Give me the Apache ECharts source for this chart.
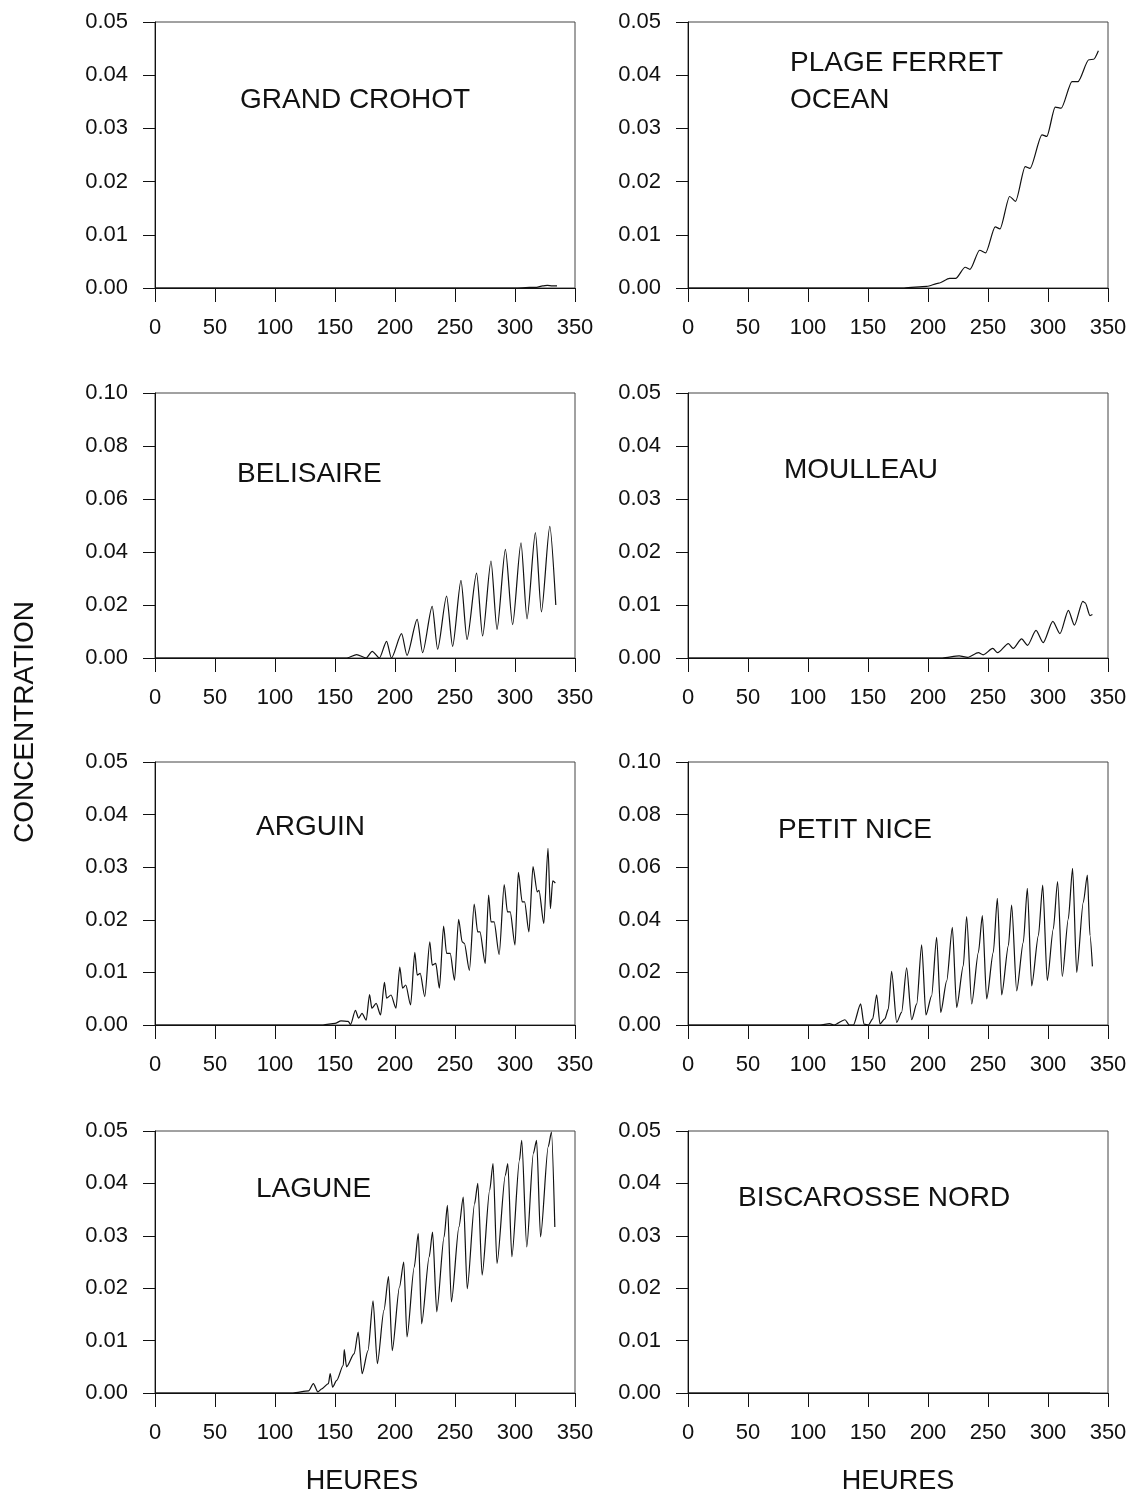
<!DOCTYPE html>
<html>
<head>
<meta charset="utf-8">
<title>Concentration - 8 stations</title>
<script src="https://cdn.jsdelivr.net/npm/echarts@6/dist/echarts.min.js"></script>
<style>
  html, body { margin: 0; padding: 0; background: #fff; }
  #chart { width: 1145px; height: 1497px; }
</style>
</head>
<body>
<div id="chart"></div>
<script>
// valeurs (heures / concentration)
const crohotHours = [0, 300, 312, 318, 323, 327, 331, 335]
const crohotConc = [0, 0, 0.0001, 0.0001, 0.0004, 0.0005, 0.0004, 0.0004]

const ferretHours = [0, 180, 199, 209, 218, 223, 231, 235, 243, 248, 256, 260, 268, 273, 281, 285, 295, 299, 306, 311, 320, 325, 334, 338, 342]
const ferretConc = [0, 0, 0.0003, 0.0009, 0.0018, 0.0018, 0.0039, 0.0035, 0.0071, 0.0066, 0.0115, 0.0111, 0.0172, 0.0163, 0.0228, 0.0225, 0.0288, 0.0285, 0.034, 0.0338, 0.0388, 0.0388, 0.0429, 0.043, 0.0446]

const belisaireHours = [0, 150, 160, 168, 176, 181, 187, 193, 197, 205.5, 210, 218.5, 223, 231, 235.5, 243, 248, 255, 260, 268, 273, 280, 285, 292, 298, 305, 310, 317, 322, 329, 334]
const belisaireConc = [0, 0, 0, 0.0013, 0, 0.0025, 0, 0.0063, 0, 0.0092, 0.001, 0.0146, 0.002, 0.0195, 0.0033, 0.0234, 0.0044, 0.0293, 0.007, 0.032, 0.0083, 0.0366, 0.0108, 0.041, 0.0126, 0.0435, 0.0148, 0.0473, 0.0174, 0.0497, 0.02]

const moulleauHours = [0, 212, 226, 233, 242, 246, 254, 258, 267, 271, 278, 283, 290, 296, 304, 310, 317, 322, 329, 331, 335, 337]
const moulleauConc = [0, 0, 0.0004, 0.0001, 0.001, 0.0006, 0.0018, 0.001, 0.0027, 0.0018, 0.0036, 0.0024, 0.0052, 0.0029, 0.0069, 0.0046, 0.009, 0.0062, 0.0107, 0.0104, 0.008, 0.0082]

const arguinHours = [0, 140, 150, 155, 161, 163, 167, 169.7, 172.5, 176, 178.8, 180.7, 184.3, 188, 191.2, 193, 196.7, 200.8, 204, 206.3, 209, 213, 216.5, 218.5, 221, 224.8, 229, 231, 234, 237, 240.5, 243, 246, 249.6, 253, 256, 257.8, 262, 266, 268.9, 270.8, 275.2, 278, 280, 282.6, 286.8, 291, 293.7, 296, 300, 302.8, 306, 308, 311.6, 315, 318.5, 320, 324, 327.5, 329.5, 331.4, 333.6]
const arguinConc = [0, 0, 0.0003, 0.0008, 0.0007, 0.0001, 0.0028, 0.0013, 0.0022, 0.0009, 0.0058, 0.0032, 0.0041, 0.0019, 0.0081, 0.0051, 0.0057, 0.0032, 0.011, 0.007, 0.0076, 0.0038, 0.0138, 0.0095, 0.0098, 0.0054, 0.0158, 0.0114, 0.0117, 0.007, 0.0188, 0.0136, 0.0136, 0.0085, 0.0201, 0.0158, 0.0155, 0.0104, 0.023, 0.0177, 0.0177, 0.0117, 0.0247, 0.0196, 0.0196, 0.0134, 0.0267, 0.0215, 0.0215, 0.0152, 0.029, 0.0234, 0.0234, 0.0177, 0.0301, 0.0253, 0.0256, 0.0193, 0.0336, 0.0221, 0.0274, 0.027]

const petitNiceHours = [0, 110, 118, 121.7, 130.8, 134.4, 137.8, 143.9, 146.7, 150.3, 153.9, 157.2, 160, 164, 166.9, 169.7, 173.9, 178, 182.2, 186.4, 190.6, 194.7, 198.3, 203, 207.2, 210.6, 215.6, 220.3, 223.9, 229.4, 232.2, 236.4, 242, 245.3, 248.9, 254.4, 257.8, 261.4, 267, 269.7, 273.9, 279.4, 282.8, 286.4, 292, 295.6, 299.4, 304.4, 308, 311.9, 316.9, 320.5, 323.9, 329.4, 332.8, 335, 337]
const petitNiceConc = [0, 0, 0.0005, 0, 0.002, 0, 0, 0.008, 0.0003, 0, 0.0023, 0.0115, 0.0004, 0.0023, 0.006, 0.0204, 0.001, 0.0048, 0.0217, 0.002, 0.008, 0.0305, 0.0038, 0.0111, 0.0333, 0.0048, 0.0168, 0.0371, 0.0067, 0.0225, 0.0412, 0.008, 0.0276, 0.0416, 0.0099, 0.0276, 0.0482, 0.0114, 0.0302, 0.0456, 0.013, 0.0314, 0.052, 0.0149, 0.034, 0.0532, 0.0169, 0.0365, 0.0545, 0.0185, 0.0403, 0.0596, 0.02, 0.0466, 0.057, 0.034, 0.0223]

const laguneHours = [0, 115, 128, 132, 135.7, 139, 144.5, 146, 148, 151.4, 156.9, 157.7, 159.6, 166, 169.3, 172.6, 177.5, 181.7, 185.3, 190.8, 194.6, 197.7, 203.7, 207.3, 210, 216, 219.4, 222.2, 228.5, 231.3, 234.8, 240.9, 243.7, 247, 253.3, 256.9, 260.2, 266.3, 269, 272.6, 278.9, 281.7, 285, 291.9, 294, 297.4, 303.7, 305.6, 309.8, 315.3, 318, 321.3, 327.7, 330.4, 333.2]
const laguneConc = [0, 0, 0.0004, 0.0018, 0.0002, 0.0008, 0.0018, 0.0037, 0.0011, 0.0024, 0.0053, 0.0083, 0.005, 0.0075, 0.0116, 0.0037, 0.0081, 0.0176, 0.0056, 0.0158, 0.0222, 0.0081, 0.0202, 0.025, 0.0107, 0.024, 0.0304, 0.0132, 0.026, 0.0307, 0.0155, 0.0298, 0.0358, 0.0174, 0.0317, 0.0374, 0.0199, 0.0361, 0.04, 0.0225, 0.0387, 0.0438, 0.0247, 0.0415, 0.0438, 0.026, 0.0444, 0.0482, 0.0279, 0.0457, 0.0482, 0.0298, 0.047, 0.0498, 0.0317]

const biscaHours = [0, 335]
const biscaConc = [0, 0]

const FONT = '"Liberation Sans", Arial, Helvetica, sans-serif'
const INK = '#111'

const panels = [
  { hours: crohotHours, conc: crohotConc, yMax: 0.05, left: 155, top: 22, height: 266, labels: ['GRAND CROHOT'], lx: 240, ly: 100 },
  { hours: ferretHours, conc: ferretConc, yMax: 0.05, left: 688, top: 22, height: 266, labels: ['PLAGE FERRET', 'OCEAN'], lx: 790, ly: 63 },
  { hours: belisaireHours, conc: belisaireConc, yMax: 0.10, left: 155, top: 393, height: 265, labels: ['BELISAIRE'], lx: 237, ly: 474 },
  { hours: moulleauHours, conc: moulleauConc, yMax: 0.05, left: 688, top: 393, height: 265, labels: ['MOULLEAU'], lx: 784, ly: 470 },
  { hours: arguinHours, conc: arguinConc, yMax: 0.05, left: 155, top: 762, height: 263, labels: ['ARGUIN'], lx: 256, ly: 827 },
  { hours: petitNiceHours, conc: petitNiceConc, yMax: 0.10, left: 688, top: 762, height: 263, labels: ['PETIT NICE'], lx: 778, ly: 830 },
  { hours: laguneHours, conc: laguneConc, yMax: 0.05, left: 155, top: 1131, height: 262, labels: ['LAGUNE'], lx: 256, ly: 1189 },
  { hours: biscaHours, conc: biscaConc, yMax: 0.05, left: 688, top: 1131, height: 262, labels: ['BISCAROSSE NORD'], lx: 738, ly: 1198 }
]

const chart = echarts.init(document.getElementById('chart'))

const grid = []
const xAxis = []
const yAxis = []
const series = []
const graphic = []

panels.forEach((p, i) => {
  grid.push({
    left: p.left,
    top: p.top,
    width: 420,
    height: p.height,
    show: true,
    borderColor: '#444',
    borderWidth: 1,
    backgroundColor: 'transparent'
  })
  xAxis.push({
    gridIndex: i,
    type: 'value',
    min: 0,
    max: 350,
    interval: 50,
    axisLine: { show: true, onZero: false, lineStyle: { color: INK, width: 1 } },
    axisTick: { show: true, inside: false, length: 14, lineStyle: { color: INK } },
    axisLabel: { margin: 29, fontSize: 22, color: INK, fontFamily: FONT, showMinLabel: true, showMaxLabel: true },
    splitLine: { show: false }
  })
  yAxis.push({
    gridIndex: i,
    type: 'value',
    min: 0,
    max: p.yMax,
    interval: p.yMax / 5,
    axisLine: { show: true, lineStyle: { color: INK, width: 1 } },
    axisTick: { show: true, inside: false, length: 12, lineStyle: { color: INK } },
    axisLabel: {
      margin: 27,
      fontSize: 22,
      color: INK,
      fontFamily: FONT,
      formatter: v => v.toFixed(2)
    },
    splitLine: { show: false }
  })
  series.push({
    type: 'line',
    xAxisIndex: i,
    yAxisIndex: i,
    data: p.hours.map((h, k) => [h, p.conc[k]]),
    symbol: 'none',
    smooth: 0.25,
    smoothMonotone: 'x',
    lineStyle: { color: INK, width: 1.2 },
    silent: true
  })
  p.labels.forEach((t, k) => {
    graphic.push({
      type: 'text',
      style: {
        text: t,
        x: p.lx,
        y: p.ly + k * 37,
        fill: INK,
        font: '28px ' + FONT,
        align: 'left',
        verticalAlign: 'middle'
      }
    })
  })
})

// titres des axes
graphic.push({
  type: 'text',
  x: 25,
  y: 722,
  rotation: Math.PI / 2,
  style: { text: 'CONCENTRATION', fill: INK, font: '28px ' + FONT, align: 'center', verticalAlign: 'middle' }
})
;[362, 898].forEach(cx => {
  graphic.push({
    type: 'text',
    style: { text: 'HEURES', x: cx, y: 1482, fill: INK, font: '27px ' + FONT, align: 'center', verticalAlign: 'middle' }
  })
})

chart.setOption({
  animation: false,
  backgroundColor: '#fff',
  grid,
  xAxis,
  yAxis,
  series,
  graphic
})
</script>
</body>
</html>
